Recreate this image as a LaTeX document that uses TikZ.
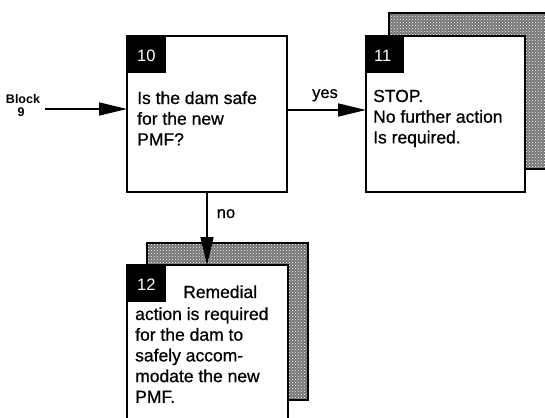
\documentclass[tikz,border=0pt]{standalone}
\usepackage{fontspec}
\setmainfont{Liberation Sans}
\newfontfamily\heavyf[FakeBold=0.7]{Liberation Sans}
\usetikzlibrary{arrows.meta,patterns}
\newcommand{\lines}[1]{\begin{tabular}[t]{@{}l@{}}#1\end{tabular}}
\begin{document}
\begin{tikzpicture}[x=1pt,y=-1pt,
  box/.style={draw=black,line width=2.4pt,fill=white,minimum width=#1,inner sep=0pt,outer sep=0pt},
  shadowbox/.style={draw=black,line width=2.2pt,fill=black!55,inner sep=0pt,outer sep=0pt},
  tag/.style={fill=black,text=white,inner sep=0pt,outer sep=0pt,anchor=north west,minimum width=39pt,minimum height=37pt},
  tagnum/.style={text=white,font=\fontsize{16.5}{18}\selectfont,anchor=base west,inner sep=0pt},
  body/.style={anchor=base west,align=left,inner sep=0pt,font=\heavyf\fontsize{17.5}{20.7}\selectfont},
  lbl/.style={anchor=base,inner sep=0pt,font=\heavyf\fontsize{16.5}{18}\selectfont},
  arr/.style={line width=1.6pt,-{Triangle[length=28pt,width=13pt]}}]
\useasboundingbox (0,0) rectangle (545,417);
\clip (0,0) rectangle (545,417);
% shadows
\node[shadowbox,minimum width=159pt,minimum height=156pt] (sh11) at (468.5,91) {};
\fill[pattern=crosshatch dots,pattern color=white] ([shift={(1.2pt,-1.2pt)}]sh11.north west) rectangle ([shift={(-1.2pt,1.2pt)}]sh11.south east);
\node[shadowbox,minimum width=161pt,minimum height=157pt] (sh12) at (227.5,321.5) {};
\fill[pattern=crosshatch dots,pattern color=white] ([shift={(1.2pt,-1.2pt)}]sh12.north west) rectangle ([shift={(-1.2pt,1.2pt)}]sh12.south east);
% boxes
\node[box=160pt,minimum height=156pt] (box10) at (207,114) {};
\node[box=159pt,minimum height=156pt] (box11) at (445.5,114) {};
\node[box=161pt,minimum height=157pt] (box12) at (207.5,343.5) {};
% tags
\node[tag] (t10) at (box10.north west) {};
\node[tag,minimum width=38pt] (t11) at (box11.north west) {};
\node[tag] (t12) at (box12.north west) {};
\node[tagnum] (n10) at (137,62) {10};
\node[tagnum] (n11) at (374,62) {11};
\node[tagnum] (n12) at (137,290) {12};
% texts
\node[body] (x10) at (137,104) {\lines{Is the dam safe\\for the new\\PMF?}};
\node[body] (x11) at (373,102) {\lines{STOP.\\No further action\\Is required.}};
\node[body] (x12a) at (183,298) {Remedial};
\node[body] (x12) at (135,320) {\lines{action is required\\for the dam to\\safely accom-\\modate the new\\PMF.}};
% block 9
\node[anchor=base,inner sep=0pt,font=\bfseries\fontsize{12.5}{13}\selectfont] (blk) at (23,103) {Block};
\node[anchor=base,inner sep=0pt,font=\bfseries\fontsize{12.5}{13}\selectfont] (blk9) at (21,116) {9};
\coordinate (bstart) at (45,109);
% arrows
\draw[arr] (bstart) -- (box10.west |- bstart);
\draw[arr] ([yshift=4pt]box10.east) -- ([yshift=4pt]box11.west);
\draw[arr] (box10.south) -- (box10.south |- box12.north);
\node[lbl] (yes) at (325,98) {yes};
\node[lbl] (no) at (226,218) {no};
\end{tikzpicture}
\end{document}
